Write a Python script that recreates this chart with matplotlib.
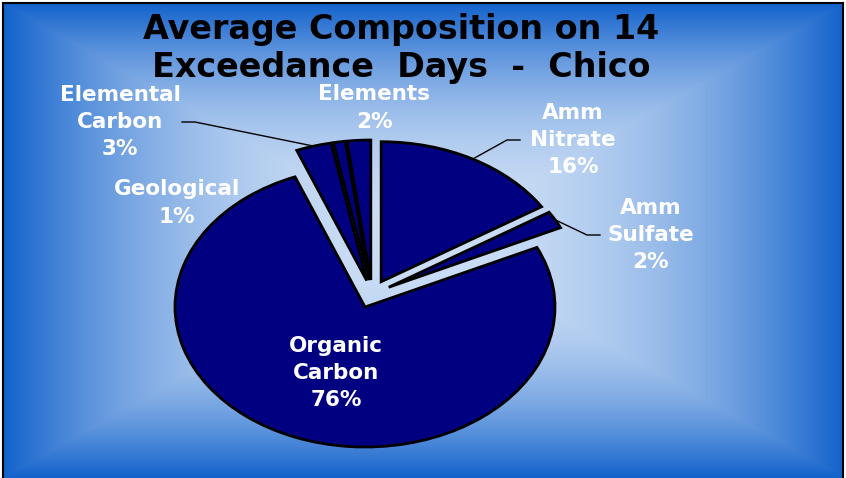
import numpy as np
import matplotlib.pyplot as plt
from matplotlib.lines import Line2D

# composition (percent), clockwise from 12 o'clock
components = ["Amm\nNitrate", "Amm\nSulfate", "Organic\nCarbon",
              "Elemental\nCarbon", "Geological", "Elements"]
shares = [16, 2, 76, 3, 1, 2]
pct_labels = ["16%", "2%", "76%", "3%", "1%", "2%"]

W, H = 846, 478
fig = plt.figure(figsize=(W / 100, H / 100), dpi=100)
fig.patch.set_facecolor("white")

# background panel with a rectangular "from centre" gradient
bg = fig.add_axes([3 / W, 0, 840 / W, 475 / H])
u = np.linspace(-1, 1, 600)
v = np.linspace(-1, 1, 400)
U, V = np.meshgrid(u, v)
t = np.maximum(np.abs(U), np.abs(V)) ** 2.2
light = np.array([204, 222, 245]) / 255
dark = np.array([18, 98, 204]) / 255
img = light[None, None, :] * (1 - t[..., None]) + dark[None, None, :] * t[..., None]
bg.imshow(img, aspect="auto", extent=[0, 1, 0, 1], interpolation="bilinear")
bg.set_xticks([])
bg.set_yticks([])
for side in ["top", "left", "right"]:
    bg.spines[side].set_color("black")
    bg.spines[side].set_linewidth(1.5)
bg.spines["bottom"].set_visible(False)

# pie axes: horizontal radius ~190px, vertical ~140px (stretched pie)
cx, cy = 372, H - 294
rx, ry = 190, 140
ax = fig.add_axes([(cx - 1.25 * rx) / W, (cy - 1.25 * ry) / H, 2.5 * rx / W, 2.5 * ry / H])
ax.patch.set_alpha(0)
explode = [0.1] * len(shares)
wedges, _ = ax.pie(shares, startangle=90, counterclock=False, explode=explode,
                   colors=["#000080"] * len(shares),
                   wedgeprops=dict(edgecolor="black", linewidth=2))
ax.set_aspect("auto")
ax.set_xlim(-1.25, 1.25)
ax.set_ylim(-1.25, 1.25)

lab_font = dict(color="white", fontsize=15.5, fontweight="bold",
                family="DejaVu Sans", ha="center", va="center", linespacing=1.45)

# label block centres in pixels (from top-left)
label_pos = [(573, 140), (651, 235), (336, 373), (120, 122), (177, 203), (374, 108)]
for name, pct, (px, py) in zip(components, pct_labels, label_pos):
    fig.text(px / W, 1 - py / H, name + "\n" + pct, **lab_font)


def to_fig(pt):
    return fig.transFigure.inverted().transform(ax.transData.transform(pt))


# leader lines: (wedge index, knee px, end px)
leaders = [(0, (507, 140), (520, 140)),
           (1, (587, 235), (600, 235)),
           (3, (195, 122), (182, 122))]
for i, knee, end in leaders:
    w = wedges[i]
    mid = np.deg2rad((w.theta1 + w.theta2) / 2)
    ox, oy = w.center
    anchor = to_fig((ox + np.cos(mid), oy + np.sin(mid)))
    xs = [anchor[0], knee[0] / W, end[0] / W]
    ys = [anchor[1], 1 - knee[1] / H, 1 - end[1] / H]
    fig.add_artist(Line2D(xs, ys, color="black", linewidth=1.0))

title_font = dict(fontsize=24, fontweight="bold", family="DejaVu Sans",
                  ha="center", va="center", color="black")
fig.text(401 / W, 1 - 30 / H, "Average Composition on 14", **title_font)
fig.text(401 / W, 1 - 68 / H, "Exceedance  Days  -  Chico", **title_font)

fig.savefig("out.png", dpi=100)
